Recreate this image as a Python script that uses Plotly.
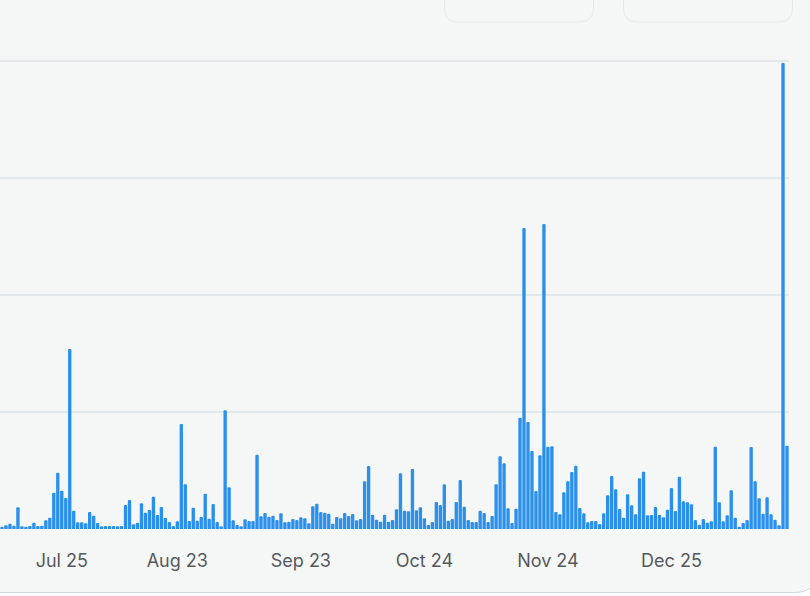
import pandas as pd
import plotly.graph_objects as go

start_date = "2025-07-10"
# Daily values; one gridline step equals 117 units.
values = [
 2.3,3.7,5.3,3.3,21.7,2.7,2.3,3,6.3,3,3.3,8.7,11.3,36.3,56.3,38.3,31,180,18.3,6.7,
 6.7,5.7,17,13.3,6,2.7,3,3,3,2.7,3,24,29,4.7,6.3,25.7,16.3,19,32.3,14,
 22,11,7,3,7.7,105,44.7,8,21.3,8.3,12,35.3,10.3,25,7,2.7,118.7,41.7,8.7,4,
 2.7,9.7,8,8,74.3,12.7,16,12.3,
 13.3,9,15.7,6.7,7.3,10,9,11.7,10.7,5.7,22.7,25.3,17,16.3,15.3,5.3,12,10.7,16,13,
 15,8.7,10,47.7,63,14.3,9.3,7.3,14.3,7.3,9,19.7,55.7,18.3,17.7,60,18.7,21.7,10.7,4,
 7,27,24,44.7,8.3,10,27,49,22.3,9,7,7,18.3,16,7,13,44.7,72.7,65.7,20.7,
 6,20.3,111.3,301,107,78,38,73.7,
 305,82.3,82.7,17,14.7,36.7,47.7,57,63.3,21,15.7,6.7,8,8,5,15.7,33.7,53,39.7,20,
 11.3,34.7,23.7,14.7,50.7,57.3,13.7,14,22,14,11.7,19.3,41,18,52.3,27.7,26.7,24.7,9,4.3,
 10,6.3,7.7,82.3,26.7,7.7,13.7,38.7,11.3,2.3,6,9,82,47.7,30.7,15.3,31.7,14.7,9.3,3.7,
 466,83.3,
]
tick_dates = ["2025-07-25","2025-08-23","2025-09-23","2025-10-24","2025-11-24","2025-12-25"]
tick_labels = ["Jul 25","Aug 23","Sep 23","Oct 24","Nov 24","Dec 25"]
grid_values = [117,234,351,468]

dates = pd.date_range(start_date, periods=len(values), freq="D")

W, H = 810, 596
L, R, T, B = 0, 789, 51, 529

def px(x): return (x - L) / (R - L)
def py(y): return (B - y) / (B - T)

def round_rect(x0, y0, x1, y1, r):
    return (f"M {px(x0)},{py(y0)} L {px(x0)},{py(y1-r)} "
            f"Q {px(x0)},{py(y1)} {px(x0+r)},{py(y1)} L {px(x1-r)},{py(y1)} "
            f"Q {px(x1)},{py(y1)} {px(x1)},{py(y1-r)} L {px(x1)},{py(y0)} Z")

def deco(path, fill, line, width):
    return dict(type="path", xref="paper", yref="paper", path=path,
                fillcolor=fill, line=dict(color=line, width=width), layer="below")

fig = go.Figure(go.Bar(
    x=dates, y=values,
    marker=dict(color="#2a90ec", line=dict(width=0)),
    hoverinfo="skip",
))
fig.update_layout(
    width=W, height=H,
    margin=dict(l=L, r=W-R, t=T, b=H-B, pad=0),
    paper_bgcolor="#ffffff",
    plot_bgcolor="rgba(0,0,0,0)",
    bargap=0.16,
    barcornerradius=1,
    showlegend=False,
    shapes=[
        deco(round_rect(-30, -30, 818, 592.5, 24), "#f5f7f7", "#cbd8e0", 1),
        deco(round_rect(444.5, -30, 593.5, 22, 14), "rgba(0,0,0,0)", "#e6e9ea", 1),
        deco(round_rect(623.5, -30, 792.5, 22, 14), "rgba(0,0,0,0)", "#e6e9ea", 1),
    ],
)
fig.update_xaxes(
    type="date",
    range=[dates[0] - pd.Timedelta(hours=12), dates[-1] + pd.Timedelta(hours=12)],
    tickmode="array", tickvals=tick_dates, ticktext=tick_labels,
    ticks="outside", ticklen=15, tickcolor="rgba(0,0,0,0)", tickwidth=1,
    tickfont=dict(family="Inter", size=18, color="#55595c"),
    showgrid=False, zeroline=False, showline=False,
)
fig.update_yaxes(
    range=[0, 478],
    tickmode="array", tickvals=grid_values, showticklabels=False, ticks="",
    showgrid=True, gridcolor="#e3e8eb", gridwidth=1.5,
    zeroline=False, showline=False,
)
fig.write_html("out.html", config={"displayModeBar": False},
               post_script="document.body.style.margin='0';")
